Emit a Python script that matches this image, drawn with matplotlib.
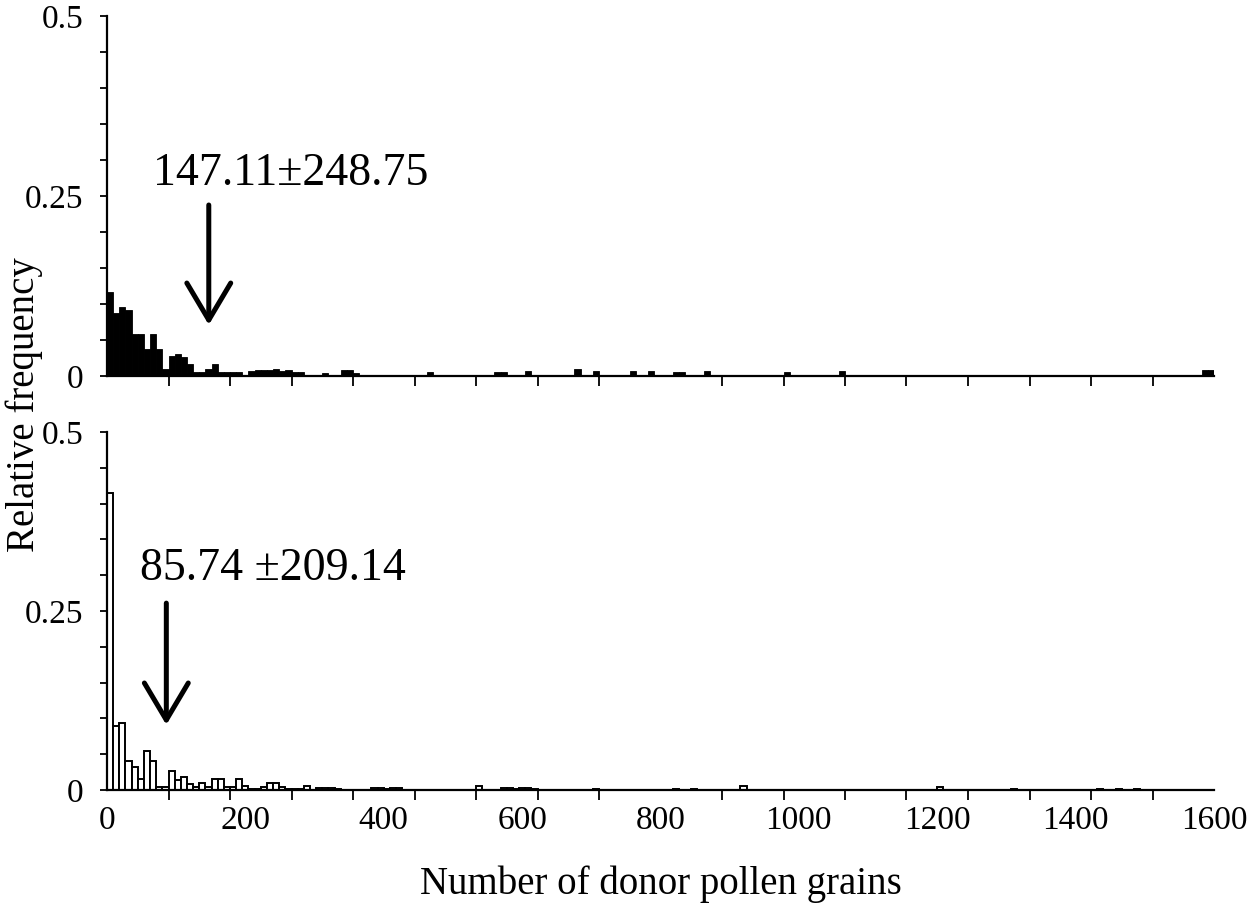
import numpy as np
import matplotlib
matplotlib.use('Agg')
from matplotlib import pyplot as plt

plt.rcParams['font.family'] = ['Liberation Serif', 'DejaVu Serif']

# histogram bins: 180 bins over 0-1600 donor pollen grains
n_bins = 180
x_max = 1600
bin_width = x_max / n_bins

# top panel (black bars) - first bins, one value per bin
top_head = [0.117, 0.087, 0.096, 0.092, 0.059, 0.059, 0.038, 0.059, 0.038, 0.010,
            0.028, 0.030, 0.027, 0.016, 0.005, 0.005, 0.010, 0.016, 0.006, 0.006,
            0.006, 0.005, 0.0, 0.007, 0.008, 0.008, 0.008, 0.010, 0.007, 0.008,
            0.006, 0.006, 0.0, 0.0, 0.0, 0.004, 0.0, 0.0, 0.008, 0.008, 0.004]
# top panel - sparse tail (bin index, value)
top_tail_bins = [52, 63, 64, 68, 76, 79, 85, 88, 92, 93, 97, 104, 106, 108, 110,
                 119, 126, 128, 138, 143, 146, 149, 164, 167, 171, 174, 178, 179]
top_tail_vals = [0.0056, 0.0056, 0.0056, 0.0074, 0.0097, 0.0074, 0.0074, 0.0074,
                 0.006, 0.006, 0.0074, 0.0015, 0.0015, 0.0015, 0.006, 0.0074,
                 0.0015, 0.0015, 0.0015, 0.0015, 0.0015, 0.0015, 0.0015, 0.0015,
                 0.0015, 0.0015, 0.008, 0.008]

# bottom panel (open bars)
bot_head = [0.415, 0.090, 0.094, 0.041, 0.032, 0.015, 0.054, 0.041, 0.004, 0.004,
            0.026, 0.014, 0.018, 0.009, 0.004, 0.010, 0.004, 0.015, 0.015, 0.004,
            0.004, 0.015, 0.006, 0.002, 0.002, 0.004, 0.010, 0.010, 0.004, 0.001,
            0.001, 0.001, 0.005, 0.0, 0.003, 0.003, 0.003, 0.002]
bot_tail_bins = [43, 44, 45, 46, 47, 60, 64, 65, 66, 67, 68, 69, 79, 92, 95,
                 103, 135, 147, 161, 164, 167]
bot_tail_vals = [0.003, 0.003, 0.002, 0.003, 0.003, 0.005, 0.003, 0.003, 0.002,
                 0.003, 0.003, 0.002, 0.0015, 0.0015, 0.0015, 0.006, 0.004,
                 0.0015, 0.0015, 0.0015, 0.0015]

top_mean, top_sd = 147.11, 248.75
bot_mean, bot_sd = 85.74, 209.14
top_label = '147.11\u00b1248.75'
bot_label = '85.74 \u00b1209.14'

y_ticks = [0, 0.25, 0.5]
y_ticklabels = ['0', '0.25', '0.5']
x_ticks = np.arange(0, 1601, 200)


def to_bins(head, tail_bins, tail_vals):
    vals = np.zeros(n_bins)
    vals[:len(head)] = head
    vals[tail_bins] = tail_vals
    return np.arange(n_bins) * bin_width, vals


W, H = 1252, 914
fig = plt.figure(figsize=(W / 100, H / 100), dpi=100)
left, right = 107 / W, 1214 / W
ax_top = fig.add_axes([left, (H - 376) / H, right - left, 360 / H])
ax_bot = fig.add_axes([left, (H - 790) / H, right - left, 358 / H])

xs, top_vals = to_bins(top_head, top_tail_bins, top_tail_vals)
ax_top.bar(xs, top_vals, width=bin_width, align='edge', color='black',
           edgecolor='black', linewidth=0.6)
xs, bot_vals = to_bins(bot_head, bot_tail_bins, bot_tail_vals)
ax_bot.bar(xs, bot_vals, width=bin_width, align='edge', color='white',
           edgecolor='black', linewidth=1.4)

for ax in (ax_top, ax_bot):
    ax.set_xlim(0, x_max)
    ax.set_ylim(0, 0.5)
    ax.spines[['top', 'right']].set_visible(False)
    ax.spines[['left', 'bottom']].set_linewidth(1.6)
    ax.set_xticks(x_ticks)
    ax.set_xticks(np.arange(0, x_max, 10 * bin_width), minor=True)
    ax.tick_params(axis='x', which='major', length=0, pad=11, labelsize=24)
    ax.tick_params(axis='x', which='minor', length=7, width=1.3, direction='out')
    ax.set_yticks(y_ticks)
    ax.set_yticklabels(y_ticklabels)
    ax.set_yticks(np.arange(0, 0.5, 0.05), minor=True)
    ax.tick_params(axis='y', which='both', length=5, width=1.3, pad=12, labelsize=24)
ax_top.tick_params(axis='x', labelbottom=False)

arrow = dict(arrowstyle='->,head_length=2.66,head_width=1.58', lw=3.6,
             color='black', shrinkA=0, shrinkB=0, mutation_scale=10)
ax_top.annotate('', xy=(top_mean, 0.071), xytext=(top_mean, 0.2375), arrowprops=arrow)
ax_top.text(66.5, 0.265, top_label, fontsize=33, ha='left', va='baseline')
ax_bot.annotate('', xy=(bot_mean, 0.091), xytext=(bot_mean, 0.261), arrowprops=arrow)
ax_bot.text(47.7, 0.293, bot_label, fontsize=33, ha='left', va='baseline')

fig.text((107 + 1214) / 2 / W, (H - 894) / H, 'Number of donor pollen grains',
         fontsize=28, ha='center', va='baseline')
fig.text(24 / W, (H - 405) / H, 'Relative frequency', fontsize=28,
         rotation=90, ha='center', va='center')

fig.savefig('out.png', dpi=100)
